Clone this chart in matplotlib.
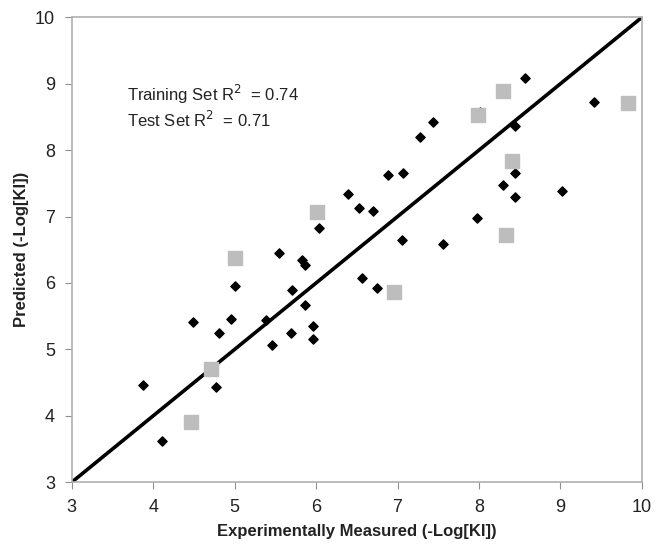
import matplotlib.pyplot as plt

# training set (black diamonds)
train_x = [3.88, 4.11, 4.49, 4.77, 4.81, 4.95, 5.00, 5.38, 5.46, 5.54,
           5.69, 5.70, 5.83, 5.86, 5.86, 5.96, 5.96, 6.03, 6.39, 6.53,
           6.56, 6.70, 6.75, 6.88, 7.06, 7.07, 7.27, 7.44, 7.56, 7.98,
           8.01, 8.30, 8.44, 8.44, 8.44, 8.57, 9.02, 9.41]
train_y = [4.46, 3.62, 5.41, 4.44, 5.25, 5.46, 5.95, 5.44, 5.06, 6.45,
           5.25, 5.90, 6.35, 6.27, 5.67, 5.35, 5.15, 6.83, 7.34, 7.13,
           6.08, 7.08, 5.93, 7.62, 6.65, 7.66, 8.20, 8.42, 6.59, 6.98,
           8.58, 7.48, 8.36, 7.66, 7.29, 9.08, 7.39, 8.72]

# test set (grey squares)
test_x = [4.47, 4.71, 5.01, 6.01, 6.96, 7.99, 8.30, 8.41, 8.33, 9.83]
test_y = [3.91, 4.70, 6.37, 7.07, 5.86, 8.53, 8.89, 7.84, 6.73, 8.71]

r2_train = 0.74
r2_test = 0.71

plt.rcParams['font.family'] = ['Liberation Sans', 'DejaVu Sans']

fig = plt.figure(figsize=(6.55, 5.48), dpi=100)
ax = fig.add_axes([0.1095, 0.12, 0.8705, 0.8484])

ax.plot([3, 10], [3, 10], color='black', lw=2.6, zorder=1)
ax.scatter(train_x, train_y, marker='D', s=22, color='black', zorder=2)
ax.scatter(test_x, test_y, marker='s', s=90, color='#bdbdbd', zorder=3)

ax.set_xlim(3, 10)
ax.set_ylim(3, 10)
ax.set_xticks(range(3, 11))
ax.set_yticks(range(3, 11))

for s in ax.spines.values():
    s.set_color('#b0b0b0')
    s.set_linewidth(1.2)
ax.tick_params(direction='out', length=5, color='#909090', labelsize=13,
               labelcolor='#222222', pad=7)

ax.set_xlabel('Experimentally Measured (-Log[KI])', fontsize=12,
              fontweight='bold', labelpad=6, color='#222222')
ax.set_ylabel('Predicted (-Log[KI])', fontsize=12, fontweight='bold',
              labelpad=4, color='#222222')

ax.text(3.68, 8.84, 'Training Set R$^2$  = %.2f' % r2_train, fontsize=12,
        color='#222222', va='center')
ax.text(3.68, 8.45, 'Test Set R$^2$  = %.2f' % r2_test, fontsize=12,
        color='#222222', va='center')

fig.savefig('out.png', dpi=100)
